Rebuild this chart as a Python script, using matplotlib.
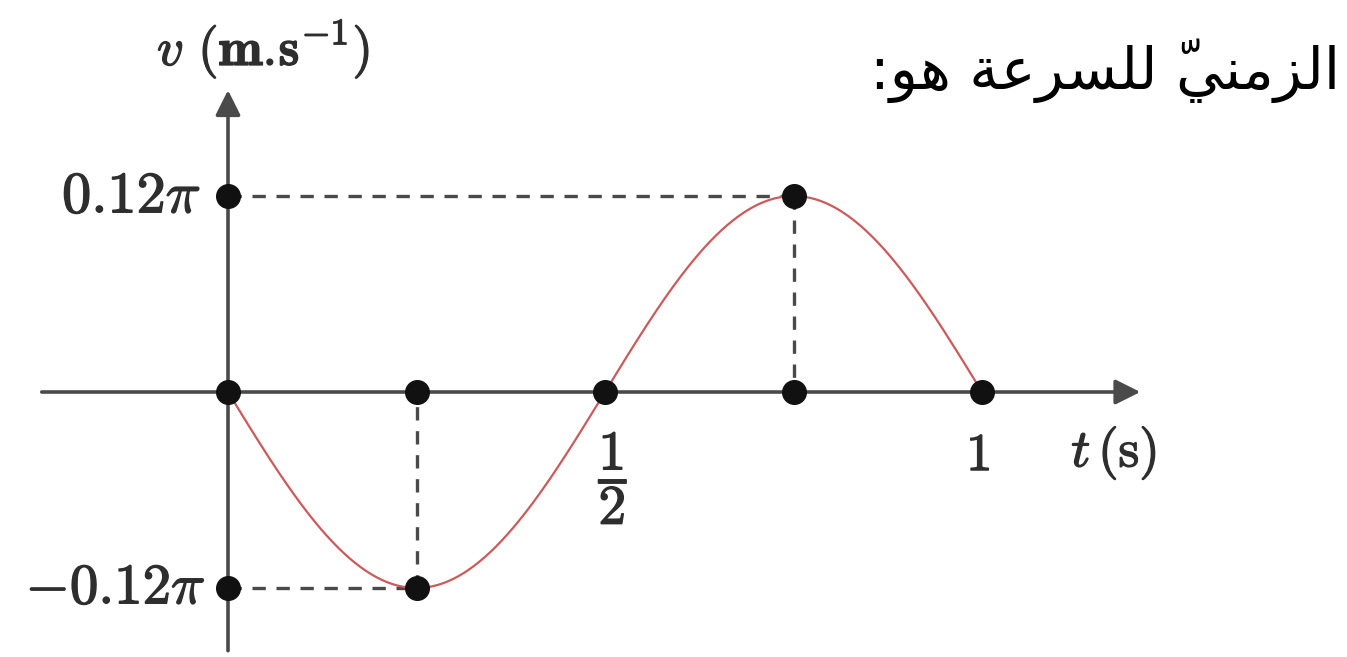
import numpy as np
import matplotlib
matplotlib.use("Agg")
import matplotlib.pyplot as plt
import matplotlib.patheffects as pe

plt.rcParams["mathtext.fontset"] = "cm"

# velocity graph data
amplitude = 0.12 * np.pi          # m/s
period = 1.0                      # s
t_dots = [0, 0.25, 0.5, 0.75, 1.0]
peak_times = [0.25, 0.75]
peak_values = [-amplitude, amplitude]
y_tick_labels = [r"$\mathbf{0.12}\pi$", r"$-\mathbf{0.12}\pi$"]

# Arabic caption, pre-shaped glyphs in visual (left-to-right) order
caption = ":\uFEEE\uFEEB \uFE94\uFECB\uFEAE\uFEB4\uFEE0\uFEDF \u0651\uFEF2\uFEE8\uFEE3\uFEB0\uFEDF\uFE8D"

axis_col = "#4a4a4a"
curve_col = "#cc5a5a"
text_col = "#2e2e2e"
heavy = [pe.withStroke(linewidth=1.0, foreground=text_col)]

fig = plt.figure(figsize=(13.47, 6.57), dpi=100)
ax = fig.add_axes([0, 0, 1, 1])
ax.set_xlim(-228 / 754, (1347 - 228) / 754)
ax.set_ylim(-(657 - 392) / 196 * amplitude, 392 / 196 * amplitude)
ax.axis("off")

# axes with arrow heads
ax.annotate("", xy=(1.21, 0), xytext=(-0.247, 0),
            arrowprops=dict(arrowstyle="-|>", color=axis_col, lw=2.6,
                            mutation_scale=38, shrinkA=0, shrinkB=0))
ax.annotate("", xy=(0, 1.54 * amplitude), xytext=(0, -1.32 * amplitude),
            arrowprops=dict(arrowstyle="-|>", color=axis_col, lw=2.6,
                            mutation_scale=38, shrinkA=0, shrinkB=0))

# dashed guides to the extrema
for tp, vp in zip(peak_times, peak_values):
    ax.plot([0, tp], [vp, vp], ls=(0, (4, 3.2)), color=axis_col, lw=2.4)
    ax.plot([tp, tp], [vp, 0], ls=(0, (4, 3.2)), color=axis_col, lw=2.4)

# velocity curve
t = np.linspace(0, period, 400)
v = -amplitude * np.sin(2 * np.pi * t / period)
ax.plot(t, v, color=curve_col, lw=1.6, zorder=3)

# black dots
ax.plot(t_dots, [0] * len(t_dots), "o", color="#111111", ms=17, zorder=4)
ax.plot([0, 0], peak_values[::-1], "o", color="#111111", ms=17, zorder=4)
ax.plot(peak_times, peak_values, "o", color="#111111", ms=17, zorder=4)

# labels
lab = dict(color=text_col, path_effects=heavy)
ax.text(-0.036, amplitude, y_tick_labels[0], fontsize=42, ha="right", va="center", **lab)
ax.text(-0.030, -amplitude, y_tick_labels[1], fontsize=41, ha="right", va="center", **lab)
ax.text(0.511, -0.20 * amplitude, r"$\mathbf{\dfrac{1}{2}}$", fontsize=40, ha="center", va="top", **lab)
ax.text(0.995, -0.19 * amplitude, r"$\mathbf{1}$", fontsize=38, ha="center", va="top", **lab)
ax.text(1.175, -0.31 * amplitude, r"$t\,(\mathrm{s})$", fontsize=38, ha="center", va="center", **lab)
ax.text(0.047, 1.75 * amplitude, r"$v\ (\mathbf{m.\!s^{-1}})$", fontsize=38, ha="center", va="center", **lab)

ax.text(1.475, 1.64 * amplitude, caption, fontsize=42, ha="right", va="center",
        family="DejaVu Sans", color="black")

fig.savefig("out.png", dpi=100)
